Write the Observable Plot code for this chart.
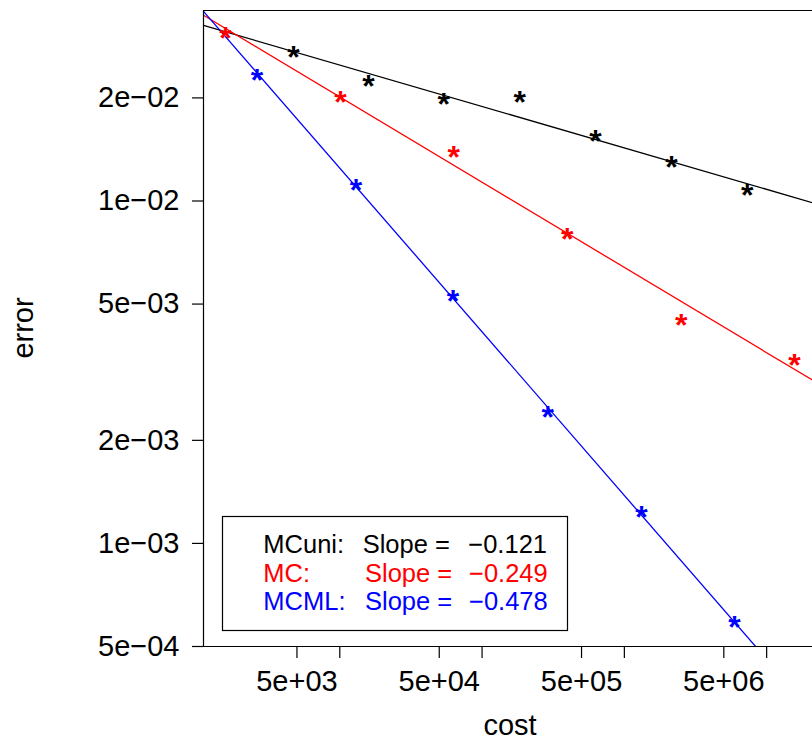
<!DOCTYPE html>
<html>
<head>
<meta charset="utf-8">
<script src="https://cdn.jsdelivr.net/npm/d3@7"></script>
<script src="https://cdn.jsdelivr.net/npm/@observablehq/plot@0.6"></script>
<style>
  body { margin: 0; background: #fff; }
  #chart { width: 812px; height: 742px; overflow: hidden; }
</style>
</head>
<body>
<div id="chart"></div>
<script>
// ---- data ----
const methods = ["MCuni", "MC", "MCML"];
const colors = ["#000000", "#FF0000", "#0000FF"];

const costMCuni = [4730, 15900, 53700, 184000, 626000, 2140000, 7300000];
const errMCuni  = [0.0271, 0.0223, 0.0197, 0.0200, 0.0154, 0.0129, 0.0107];

const costMC = [1570, 10100, 63100, 396000, 2510000, 15700000];
const errMC  = [0.0308, 0.0200, 0.0138, 0.00795, 0.00447, 0.00342];

const costMCML = [2620, 13000, 62500, 289000, 1320000, 5950000];
const errMCML  = [0.0232, 0.0111, 0.00525, 0.00240, 0.00123, 0.000587];

// fitted lines: log10(error) = intercept + slope * log10(cost)
const slopes = [-0.121, -0.249, -0.478];
const intercepts = [-1.119, -0.700, 0.008];

const legendLabels = ["MCuni:", "MC:", "MCML:"];
const legendSlopeText = ["\u22120.121", "\u22120.249", "\u22120.478"];

const xTickValues = [5e3, 1e4, 5e4, 1e5, 5e5, 1e6, 5e6, 1e7];
const xLabelValues = [5e3, 5e4, 5e5, 5e6];
const xLabelTexts = ["5e+03", "5e+04", "5e+05", "5e+06"];
const yTickValues = [5e-4, 1e-3, 2e-3, 5e-3, 1e-2, 2e-2];
const yTickLabels = ["5e\u221204", "1e\u221203", "2e\u221203", "5e\u221203", "1e\u221202", "2e\u221202"];

const xDomain = [1102, 2.1e7];
const yDomain = [5e-4, 0.0360];

// ---- build tables ----
const costs = [costMCuni, costMC, costMCML];
const errs = [errMCuni, errMC, errMCML];
const points = [];
costs.forEach((cs, k) => cs.forEach((c, i) => points.push({method: methods[k], cost: c, error: errs[k][i]})));

const fitLines = [];
methods.forEach((m, k) => xDomain.forEach(c => fitLines.push({
  method: m, cost: c, error: Math.pow(10, intercepts[k] + slopes[k] * Math.log10(c))
})));

const xLabels = xLabelValues.map((v, i) => ({cost: v, label: xLabelTexts[i]}));
const yFmt = new Map(yTickValues.map((v, i) => [v, yTickLabels[i]]));

const FONT = "'Liberation Sans', Arial, Helvetica, sans-serif";

const svg = Plot.plot({
  width: 812,
  height: 742,
  marginLeft: 203,
  marginRight: 0,
  marginTop: 10,
  marginBottom: 96,
  style: {fontFamily: FONT, fontSize: "29px", background: "white", color: "black", overflow: "hidden"},
  x: {type: "log", domain: xDomain},
  y: {type: "log", domain: yDomain},
  color: {domain: methods, range: colors},
  marks: [
    Plot.line(fitLines, {x: "cost", y: "error", z: "method", stroke: "method", strokeWidth: 1.3, clip: true}),
    // point symbol: "*" character (R pch = "*")
    Plot.text(points, {x: "cost", y: "error", text: () => "*", fill: "method", fontSize: 32, fontWeight: "bold", lineAnchor: "middle", dy: 5}),
    Plot.ruleY([yDomain[1]], {stroke: "black", strokeWidth: 1.2}),
    Plot.ruleY([yDomain[0]], {stroke: "black", strokeWidth: 1.2}),
    Plot.ruleX([xDomain[0]], {stroke: "black", strokeWidth: 1.2}),
    Plot.axisX(xTickValues, {tickSize: 12, tickFormat: () => "", label: null, stroke: "black", strokeWidth: 1.2}),
    Plot.text(xLabels, {x: "cost", text: "label", frameAnchor: "bottom", lineAnchor: "middle", dy: 35, fontSize: 29, fill: "black"}),
    Plot.axisY(yTickValues, {tickSize: 11, tickPadding: 13, tickFormat: d => yFmt.get(d), label: null, fontSize: 29, stroke: "black", strokeWidth: 1.2})
  ]
});

const s = d3.select(svg);

// axis titles
s.append("text")
  .attr("x", 510).attr("y", 735)
  .attr("text-anchor", "middle")
  .style("font-family", FONT).style("font-size", "29px").attr("fill", "black")
  .text("cost");
s.append("text")
  .attr("transform", "translate(33,328) rotate(-90)")
  .attr("text-anchor", "middle")
  .style("font-family", FONT).style("font-size", "29px").attr("fill", "black")
  .text("error");

// legend
const lg = s.append("g").attr("text-anchor", "start");
lg.append("rect")
  .attr("x", 222.5).attr("y", 516.5).attr("width", 345).attr("height", 114)
  .attr("fill", "white").attr("stroke", "black").attr("stroke-width", 1.2);
const slopeX = [362.7, 365, 365];
const valX = [468.3, 469, 469];
const baseY = [553.3, 582, 610];
methods.forEach((m, k) => {
  const t = lg.append("text")
    .attr("y", baseY[k])
    .attr("text-anchor", "start")
    .style("font-family", FONT).style("font-size", "25.5px").attr("fill", colors[k]);
  t.append("tspan").attr("x", 263.3).text(legendLabels[k]);
  t.append("tspan").attr("x", slopeX[k]).text("Slope =");
  t.append("tspan").attr("x", valX[k]).text(legendSlopeText[k]);
});

document.getElementById("chart").appendChild(svg);
</script>
</body>
</html>
